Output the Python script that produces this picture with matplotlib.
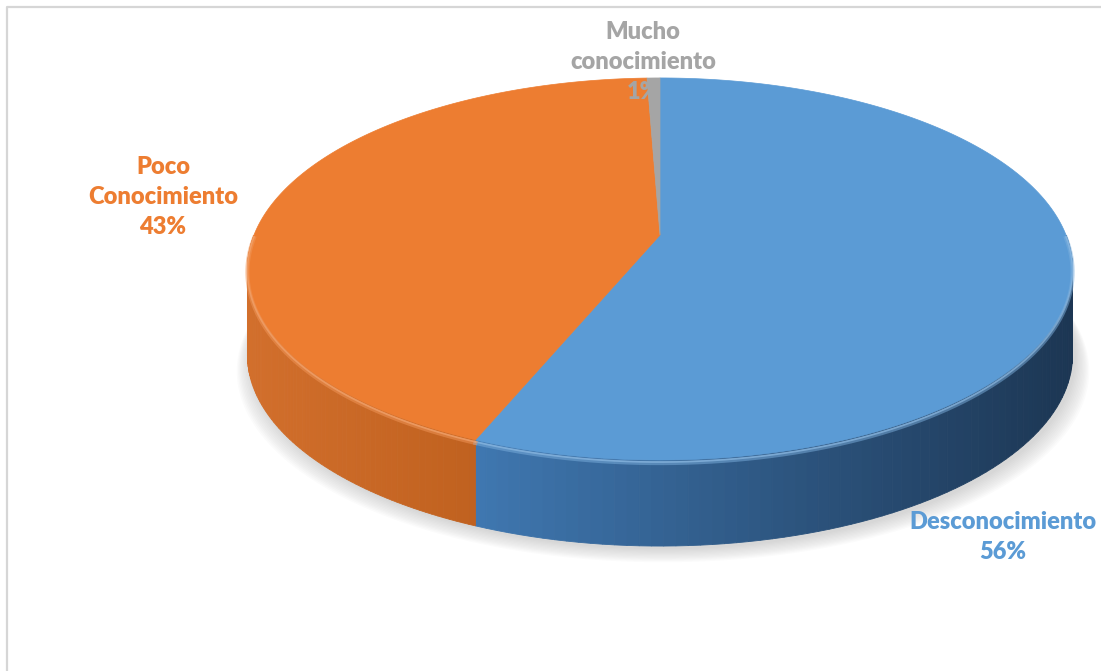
import numpy as np
import matplotlib
matplotlib.use("Agg")
import matplotlib.pyplot as plt
from matplotlib.patches import Polygon
from matplotlib.colors import to_rgb

categories = ['Desconocimiento', 'Poco\nConocimiento', 'Mucho\nconocimiento']
values = [56.2, 43.2, 0.6]
top_colors = ['#5B9BD5', '#ED7D31', '#A5A5A5']
wall_light = ['#3f77b0', '#d26f2c', '#8a8a8a']
wall_dark = ['#1c3653', '#c0611f', '#6a6a6a']
label_pos = [(1003, 537), (163, 197), (643, 62)]

# perspective ellipse, pixel units
CX, CY = 660, 235
A, B, P = 406, 185, 0.178
DEPTH = 86


def proj(t_deg, drop=0.0):
    t = np.radians(t_deg)
    u, v = np.cos(t), np.sin(t)
    w = 1 + P * v
    return CX + A * u / w, CY - B * v / w + drop


def lerp(c1, c2, f):
    a, b = np.array(to_rgb(c1)), np.array(to_rgb(c2))
    return tuple(a + (b - a) * np.clip(f, 0, 1))


fig = plt.figure(figsize=(11.01, 6.71), dpi=100)
ax = fig.add_axes([0, 0, 1, 1])
ax.set_xlim(0, 1101)
ax.set_ylim(671, 0)
ax.axis('off')

# frame
ax.plot([7, 7, 1101], [671, 7, 7], color='#d6d6d6', lw=1.6, zorder=0)

# soft shadow under the pie
full = np.linspace(0, 360, 361)
for k in range(12):
    sx, sy = proj(full, DEPTH + 3 + k * 1.2)
    sx = CX + (sx - CX) * (1 + k * 0.003) + 3
    ax.add_patch(Polygon(np.column_stack([sx, sy]), closed=True,
                         facecolor='#909090', edgecolor='none', alpha=0.03, zorder=1))

# slice angles, clockwise from 12 o'clock
total = sum(values)
starts, ends = [], []
ang = 90.0
for v in values:
    starts.append(ang)
    ang -= 360.0 * v / total
    ends.append(ang)

# side walls (front half only)
for i in range(len(values)):
    lo, hi = max(ends[i], -180.0), min(starts[i], 0.0)
    if hi <= lo:
        continue
    ts = np.linspace(lo, hi, 80)
    for j in range(len(ts) - 1):
        x0, y0 = proj(ts[j])
        x1, y1 = proj(ts[j + 1])
        f = ((x0 + x1) / 2 - 247) / 826
        if i == 0:
            f = (f - 0.28) / 0.72
        else:
            f = f / 0.28
        col = lerp(wall_light[i], wall_dark[i], f)
        ax.add_patch(Polygon([(x0, y0), (x1, y1), (x1, y1 + DEPTH), (x0, y0 + DEPTH)],
                             closed=True, facecolor=col, edgecolor=col, lw=0.6, zorder=2))
    # bevel highlight along the front rim
    rx, ry = proj(ts)
    ax.plot(rx, ry + 3, color=lerp(top_colors[i], '#ffffff', 0.2), lw=3, alpha=0.5, zorder=4)
    ax.plot(rx, ry + 2, color=lerp(top_colors[i], '#ffffff', 0.3), lw=1.2, alpha=0.7, zorder=4)

# top faces
for i in range(len(values)):
    ts = np.linspace(starts[i], ends[i], 200)
    x, y = proj(ts)
    pts = np.vstack([[CX, CY], np.column_stack([x, y])])
    ax.add_patch(Polygon(pts, closed=True, facecolor=top_colors[i],
                         edgecolor=top_colors[i], lw=0.5, zorder=3))

# labels
for i in range(len(values)):
    ax.text(label_pos[i][0], label_pos[i][1], f"{categories[i]}\n{values[i]:.0f}%",
            ha='center', va='center', multialignment='center', linespacing=1.45,
            fontsize=17, fontweight='heavy', family=['Lato', 'DejaVu Sans'],
            color=top_colors[i], zorder=5)

fig.savefig('out.png', dpi=100)
